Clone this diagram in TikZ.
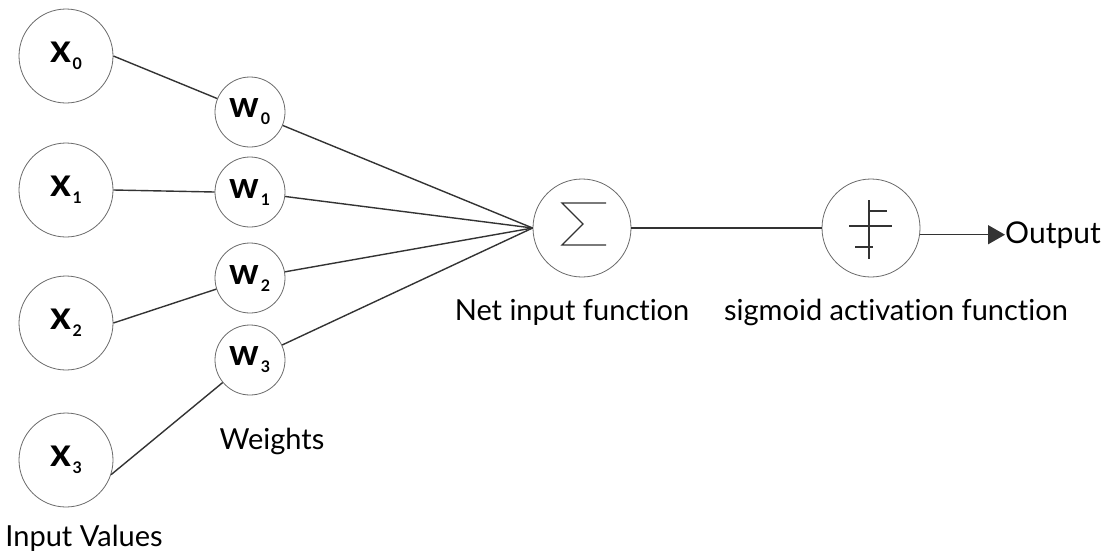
\documentclass[tikz,border=0pt]{standalone}
\usepackage{fontspec}
\setmainfont[Ligatures=NoCommon]{Lato}
\usetikzlibrary{arrows.meta}
\definecolor{ringgray}{HTML}{6A6A6A}
\definecolor{wiregray}{HTML}{333333}
% variable with a subscript index, as printed inside the unit circles
\newcommand{\varsub}[3]{{\fontsize{#1}{#1}\selectfont\bfseries #2}\kern1.5pt\raisebox{-7pt}{\fontsize{16}{16}\selectfont\bfseries #3}}
\begin{document}
\begin{tikzpicture}[x=1pt,y=-1pt,
  unit/.style={circle,draw=ringgray,line width=0.8pt,inner sep=0pt},
  inp/.style={unit,minimum size=94pt},
  wt/.style={unit,minimum size=70pt},
  big/.style={unit,minimum size=98pt},
  wire/.style={draw=wiregray,line width=1.4pt},
  glyph/.style={draw=wiregray,line width=1.3pt},
  lbl/.style={font=\fontsize{29}{29}\selectfont,anchor=base,inner sep=0pt}]
\useasboundingbox (0,0) rectangle (1107,558);

% input values
\node[inp] (x0) at (66,56)  {\varsub{40}{x}{0}};
\node[inp] (x1) at (66,190) {\varsub{40}{x}{1}};
\node[inp] (x2) at (66,323) {\varsub{40}{x}{2}};
\node[inp] (x3) at (66,460) {\varsub{40}{x}{3}};

% weights
\node[wt] (w0) at (250,112) {\varsub{37}{w}{0}};
\node[wt] (w1) at (250,192) {\varsub{37}{w}{1}};
\node[wt] (w2) at (250,278) {\varsub{37}{w}{2}};
\node[wt] (w3) at (250,360) {\varsub{37}{w}{3}};

% summation and activation units
\node[big] (sum) at (582,228) {};
\node[big] (sig) at (871,228) {};

% labels
\node[lbl] (lin)  at (84,546)  {Input Values};
\node[lbl] (lw)   at (272,449) {Weights};
\node[lbl] (lnet) at (572,320) {Net input function};
\node[lbl] (lsig) at (896,320) {sigmoid activation function};
\node[lbl,anchor=base west,font=\fontsize{30}{30}\selectfont] (out) at (1005,243) {Output};

% connections
\draw[wire] (x0.east) -- (w0);
\draw[wire] (x1.east) -- (w1.west);
\draw[wire] (x2.east) -- (w2);
\draw[wire] (x3.-18) -- (w3);
\foreach \w in {w0,w1,w2,w3}
  \draw[wire] (\w) -- (sum.west);
\draw[wire] (sum) -- (sig);
\draw[wire,-{Triangle[length=17pt,width=19pt]}] (sig.east |- out.west) -- (out.west);

% sigma glyph
\begin{scope}[shift={(sum.center)}]
  \draw[glyph,line join=miter] (24,-25) -- (-20,-25) -- (1,-4) -- (-20,17) -- (24,17);
\end{scope}

% step glyph
\begin{scope}[shift={(sig.center)}]
  \draw[glyph] (-2,-28) -- (-2,31);
  \draw[glyph] (-22,-2) -- (21,-2);
  \draw[glyph] (-2,-17) -- (16,-17);
  \draw[glyph] (-16,19) -- (2,19);
\end{scope}
\end{tikzpicture}
\end{document}
